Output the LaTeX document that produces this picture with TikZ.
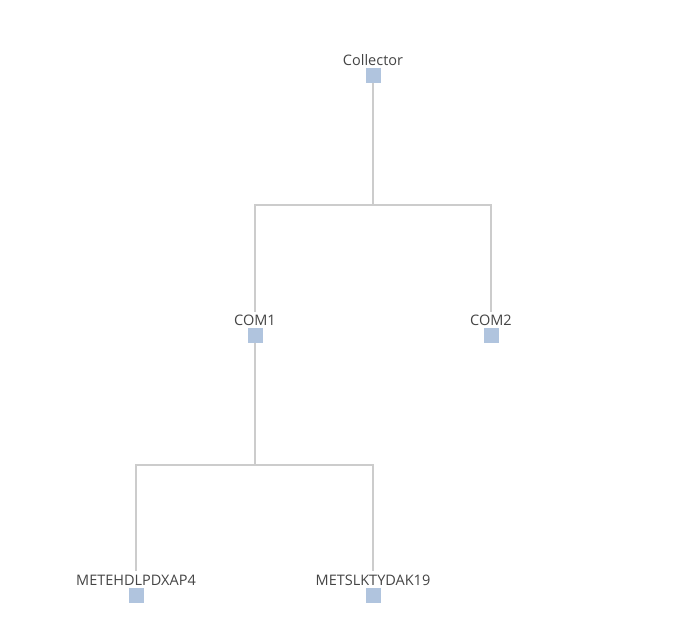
\documentclass[tikz,border=0pt]{standalone}
\usepackage{fontspec}
\setmainfont{Open Sans}
\begin{document}
\begin{tikzpicture}[x=1pt,y=-1pt,
  sq/.style={fill={rgb,255:red,176;green,196;blue,222},minimum size=15pt,inner sep=0pt},
  lab/.style={font=\fontsize{14.5}{16}\selectfont,text={rgb,255:red,68;green,68;blue,68},inner sep=0pt},
  edge/.style={draw={rgb,255:red,204;green,204;blue,204},line width=2pt}]
\useasboundingbox (0,0) rectangle (695,637);
\node[sq] (c) at (373,75) {};
\node[sq] (c1) at (255,335) {};
\node[sq] (c2) at (491,335) {};
\node[sq] (m1) at (136,595) {};
\node[sq] (m2) at (373,595) {};
\node[lab] at (373,60) {Collector};
\node[lab] at (255,320) {COM1};
\node[lab] at (491,320) {COM2};
\node[lab] at (136,580) {METEHDLPDXAP4};
\node[lab] at (373,580) {METSLKTYDAK19};
\coordinate (t1) at (255,312);
\coordinate (t2) at (491,312);
\coordinate (t3) at (136,571);
\coordinate (t4) at (373,571);
\draw[edge] (c.south) |- (255,205) -- (t1);
\draw[edge] (c.south) |- (491,205) -- (t2);
\draw[edge] (c1.south) |- (136,465) -- (t3);
\draw[edge] (c1.south) |- (373,465) -- (t4);
\end{tikzpicture}
\end{document}
